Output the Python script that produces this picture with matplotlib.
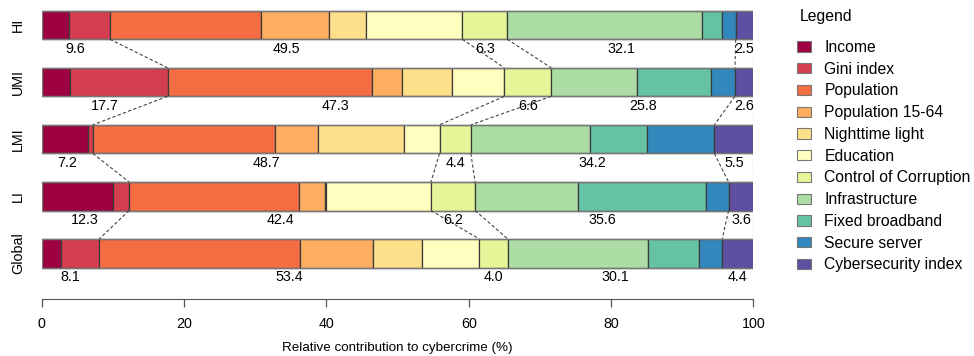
import matplotlib.pyplot as plt
from matplotlib.patches import Patch

plt.rcParams["font.family"] = ["Liberation Sans", "DejaVu Sans"]
plt.rcParams["font.size"] = 10.3

groups = ["HI", "UMI", "LMI", "LI", "Global"]
factors = [
    "Income", "Gini index", "Population", "Population 15-64",
    "Nighttime light", "Education", "Control of Corruption",
    "Infrastructure", "Fixed broadband", "Secure server", "Cybersecurity index",
]
colors = [
    "#9E0142", "#D53E4F", "#F46D43", "#FDAE61", "#FEE08B", "#FFFFBF",
    "#E6F598", "#ABDDA4", "#66C2A5", "#3288BD", "#5E4FA2",
]

# contribution (%) of each factor, one list per income group
hi_vals = [3.9, 5.7, 21.2, 9.6, 5.2, 13.5, 6.3, 27.4, 2.8, 1.9, 2.5]
umi_vals = [4.0, 13.7, 28.7, 4.3, 7.0, 7.3, 6.6, 12.0, 10.4, 3.4, 2.6]
lmi_vals = [6.6, 0.6, 25.6, 6.1, 12.0, 5.0, 4.4, 16.7, 8.1, 9.4, 5.5]
li_vals = [10.1, 2.2, 23.9, 3.6, 0.1, 14.8, 6.2, 14.4, 18.0, 3.2, 3.6]
global_vals = [2.8, 5.3, 28.2, 10.2, 7.0, 8.0, 4.0, 19.7, 7.2, 3.2, 4.4]

# group sums printed under the bars
hi_labels = ["9.6", "49.5", "6.3", "32.1", "2.5"]
umi_labels = ["17.7", "47.3", "6.6", "25.8", "2.6"]
lmi_labels = ["7.2", "48.7", "4.4", "34.2", "5.5"]
li_labels = ["12.3", "42.4", "6.2", "35.6", "3.6"]
global_labels = ["8.1", "53.4", "4.0", "30.1", "4.4"]

# factor indices where each summary group ends
group_ends = [2, 6, 7, 10, 11]

all_vals = [hi_vals, umi_vals, lmi_vals, li_vals, global_vals]
all_labels = [hi_labels, umi_labels, lmi_labels, li_labels, global_labels]

fig = plt.figure(figsize=(9.74, 3.56), dpi=100)
ax = fig.add_axes([41.5 / 974, 1 - 299 / 356, 712 / 974, 294 / 356])

h = 0.5
ypos = [4, 3, 2, 1, 0]
edges = []
for y, vals, labs in zip(ypos, all_vals, all_labels):
    left = 0
    cum = [0]
    for v, c in zip(vals, colors):
        ax.barh(y, v, left=left, height=h, color=c, edgecolor="#3a3a3a", linewidth=0.9)
        left += v
        cum.append(left)
    ax.barh(y, left, height=h, fill=False, edgecolor="#777777", linewidth=1.0)
    b = [cum[i] if i < 11 else 100 for i in group_ends]
    edges.append(b)
    starts = [0] + b[:-1]
    for s, e, t in zip(starts, b, labs):
        ax.text((s + e) / 2, y - h / 2 - 0.165, t, ha="center", va="center")

# dashed connectors between neighbouring bars
for i in range(len(ypos) - 1):
    for xu, xl in zip(edges[i], edges[i + 1]):
        ax.plot([xu, xl], [ypos[i] - h / 2, ypos[i + 1] + h / 2],
                color="#444444", linestyle=(0, (3, 2)), linewidth=0.8)

ax.set_xlim(0, 100)
ax.set_ylim(-0.8, 4.35)
ax.set_yticks(ypos)
ax.set_yticklabels(groups, rotation=90, va="center")
ax.tick_params(axis="y", length=0, pad=12)
ax.set_xticks([0, 20, 40, 60, 80, 100])
ax.tick_params(axis="x", length=6, width=0.9, color="#555555", pad=7)
for s in ["top", "right", "left"]:
    ax.spines[s].set_visible(False)
ax.spines["bottom"].set_color("#555555")
ax.set_xlabel("Relative contribution to cybercrime (%)", labelpad=8, fontsize=9.6)

fig.text(800 / 974, 1 - 17 / 356, "Legend", fontsize=11.3, ha="left", va="center")
handles = [Patch(facecolor=c, edgecolor="#777777", linewidth=0.8) for c in colors]
fig.legend(handles, factors, loc="upper left",
           bbox_to_anchor=(797 / 974, 1 - 40 / 356), frameon=False,
           fontsize=11.3, handlelength=0.9, handleheight=0.64,
           handletextpad=0.85, labelspacing=0.43, borderpad=0,
           borderaxespad=0)

plt.savefig("out.png", dpi=100)
